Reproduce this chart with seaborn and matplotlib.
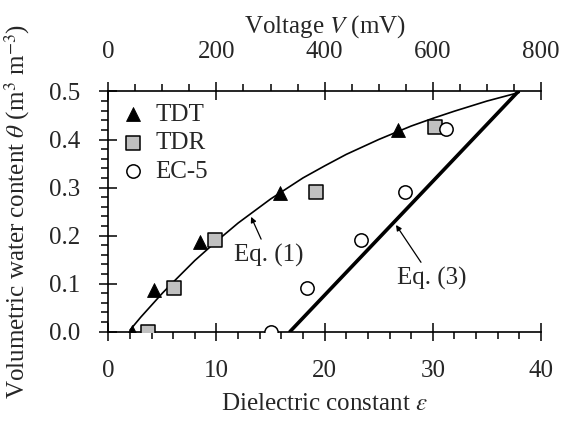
import numpy as np
import pandas as pd
import matplotlib
matplotlib.use("Agg")
import matplotlib.pyplot as plt
import seaborn as sns
from matplotlib.ticker import MultipleLocator, FormatStrFormatter

# ---- data ----
eps_tdt = [2.2, 4.2, 8.5, 15.9, 26.8]
theta_tdt = [0.0, 0.087, 0.187, 0.288, 0.42]

eps_tdr = [3.7, 6.1, 9.9, 19.2, 30.2]
theta_tdr = [0.0, 0.09, 0.19, 0.29, 0.425]

volt_ec5 = [300, 368, 468, 548, 624]
theta_ec5 = [0.0, 0.09, 0.191, 0.29, 0.422]

eps_eq1 = [2, 3, 4, 5, 6, 8, 10, 12, 15, 18, 20, 22, 25, 28, 30, 32, 35, 38]
theta_eq1 = [0.003, 0.030, 0.055, 0.080, 0.103, 0.148, 0.188, 0.226, 0.276,
             0.320, 0.345, 0.369, 0.400, 0.428, 0.444, 0.459, 0.480, 0.498]

volt_eq3 = [336, 758]
theta_eq3 = [0.0, 0.5]

sns.set_style("ticks")
plt.rcParams['font.family'] = ['Liberation Serif', 'DejaVu Serif']
plt.rcParams['mathtext.fontset'] = 'stix'
FS = 18

fig = plt.figure(figsize=(5.7, 4.21), dpi=100)
ax = fig.add_axes([0.19, 0.2124, 0.759, 0.5703])
ax2 = ax.twiny()

df_eq1 = pd.DataFrame({'eps': eps_eq1, 'theta': theta_eq1})
sns.lineplot(data=df_eq1, x='eps', y='theta', ax=ax, color='black', lw=1.2,
             sort=False, estimator=None, legend=False, zorder=2)

df_tdt = pd.DataFrame({'eps': eps_tdt, 'theta': theta_tdt})
sns.scatterplot(data=df_tdt, x='eps', y='theta', ax=ax, marker='^', s=100,
                color='black', edgecolor='black', linewidth=0.6, zorder=3, label='TDT')
df_tdr = pd.DataFrame({'eps': eps_tdr, 'theta': theta_tdr})
sns.scatterplot(data=df_tdr, x='eps', y='theta', ax=ax, marker='s', s=90,
                color='#c0c0c0', edgecolor='black', linewidth=1.1, zorder=3, label='TDR')

df_eq3 = pd.DataFrame({'V': volt_eq3, 'theta': theta_eq3})
sns.lineplot(data=df_eq3, x='V', y='theta', ax=ax2, color='black', lw=2.6,
             sort=False, estimator=None, legend=False, zorder=2)
df_ec5 = pd.DataFrame({'V': volt_ec5, 'theta': theta_ec5})
sns.scatterplot(data=df_ec5, x='V', y='theta', ax=ax2, marker='o', s=92,
                color='white', edgecolor='black', linewidth=1.1, zorder=3, label='EC-5')

ax.set_xlim(0, 40)
ax.set_ylim(0, 0.5)
ax2.set_xlim(0, 800)
ax2.set_ylim(0, 0.5)

ax.xaxis.set_major_locator(MultipleLocator(10))
ax.xaxis.set_minor_locator(MultipleLocator(2))
ax.yaxis.set_major_locator(MultipleLocator(0.1))
ax.yaxis.set_minor_locator(MultipleLocator(0.02))
ax.yaxis.set_major_formatter(FormatStrFormatter('%.1f'))
ax2.xaxis.set_major_locator(MultipleLocator(200))
ax2.xaxis.set_minor_locator(MultipleLocator(50))

for a in (ax, ax2):
    a.tick_params(which='major', direction='inout', length=13, width=1.1,
                  labelsize=FS, color='black')
    a.tick_params(which='minor', direction='out', length=5, width=1.1, color='black')
    for s in a.spines.values():
        s.set_linewidth(1.2)
        s.set_color('black')
ax.tick_params(axis='x', which='major', pad=14)
ax.tick_params(axis='y', which='major', pad=14)
ax2.tick_params(axis='x', which='major', pad=14)

ax.spines['top'].set_visible(False)
ax.spines['right'].set_visible(False)
ax2.spines['right'].set_visible(False)
ax2.spines['left'].set_visible(False)
ax2.spines['bottom'].set_visible(False)
ax2.tick_params(axis='y', which='both', left=False, right=False, labelleft=False, labelright=False)

ax.set_xlabel(r'Dielectric constant $\varepsilon$', fontsize=FS, labelpad=8)
ax.set_ylabel(r'Volumetric water content $\theta$ (m$^3$ m$^{-3}$)', fontsize=FS)
ax.yaxis.set_label_coords(-0.176, 0.5)
ax2.set_xlabel(r'Voltage $\mathit{V}$ (mV)', fontsize=FS, labelpad=6)
ax2.set_ylabel('')

ax.annotate('Eq. (1)', xy=(13.2, 0.239), xytext=(14.8, 0.159), fontsize=FS,
            ha='center', va='center',
            arrowprops=dict(arrowstyle='-|>', color='black', lw=0.9,
                            mutation_scale=8, shrinkA=1, shrinkB=0))
ax.annotate('Eq. (3)', xy=(26.6, 0.222), xytext=(29.9, 0.111), fontsize=FS,
            ha='center', va='center',
            arrowprops=dict(arrowstyle='-|>', color='black', lw=0.9,
                            mutation_scale=8, shrinkA=1, shrinkB=0))

h1, l1 = ax.get_legend_handles_labels()
h2, l2 = ax2.get_legend_handles_labels()
if ax.get_legend() is not None:
    ax.get_legend().remove()
ax2.legend(h1 + h2, l1 + l2, loc='upper left', bbox_to_anchor=(0.029, 0.95),
           frameon=False, fontsize=FS, handletextpad=0.38, labelspacing=0.24,
           borderaxespad=0, borderpad=0, handlelength=1.0)

fig.savefig('out.png', dpi=100)
